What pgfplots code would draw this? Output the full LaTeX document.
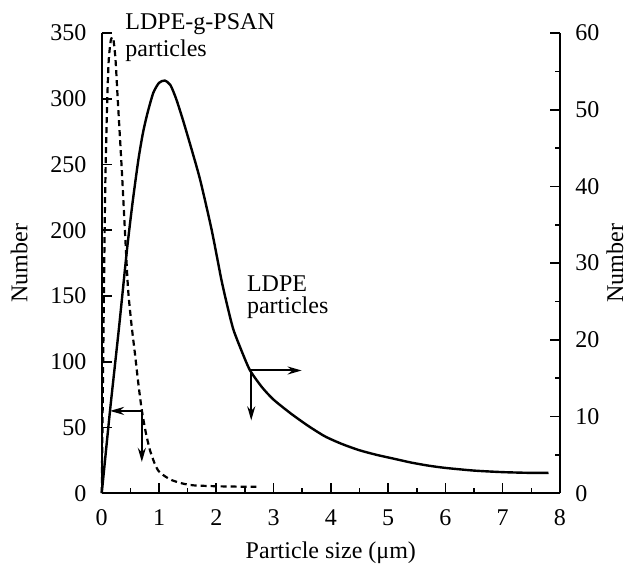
\documentclass[border=0pt]{standalone}
\usepackage{fontspec}
\setmainfont{Liberation Serif}
\usepackage{pgfplots}
\pgfplotsset{compat=1.18}
\usetikzlibrary{arrows.meta}
\tikzset{arr/.style={line width=1pt, -{Stealth[length=7pt,width=4pt]}}}

\begin{document}
\fontsize{12}{14}\selectfont
\begin{tikzpicture}
\pgfplotsset{
  base/.style={
    scale only axis, width=229pt, height=230pt,
    xmin=0, xmax=8,
    tick align=inside, major tick length=5pt, minor tick length=2.5pt,
    every tick/.style={black, line width=0.8pt},
    axis line style={line width=1.2pt},
    /pgf/number format/assume math mode=true,
    tick label style={font=\fontsize{12}{14}\selectfont},
    label style={font=\fontsize{12}{14}\selectfont},
    clip=false,
  },
}
\begin{scope}[overlay]
\begin{axis}[base,
  axis x line*=bottom, axis y line*=left,
  ymin=0, ymax=350, ytick={0,50,...,350},
  xtick={0,1,...,8}, minor x tick num=1,
  yticklabel style={xshift=-3.5pt},
  xticklabel style={yshift=-4pt},
  ylabel={Number}, xlabel={Particle size (μm)},
  ylabel style={at={(axis description cs:-0.18,0.5)}, anchor=center},
  xlabel style={at={(axis description cs:0.5,-0.13)}, anchor=center},
]
% LDPE-g-PSAN particles (left axis)
\addplot[black, line width=1.1pt, dash pattern=on 3pt off 2pt, smooth, tension=0.4] coordinates {
 (0,0) (0.02,80) (0.04,160) (0.06,230) (0.09,290) (0.12,328) (0.16,345)
 (0.2,346) (0.24,330) (0.28,299) (0.35,246) (0.41,195) (0.46,155)
 (0.52,128) (0.58,106) (0.64,83) (0.70,63) (0.77,46) (0.84,33)
 (0.92,23) (0.99,17) (1.1,13) (1.22,10) (1.4,7.5) (1.6,6) (2.0,5.3)
 (2.4,5) (2.7,5)
};
\draw[arr] (axis cs:0.70,62.6) -- (axis cs:0.145,62.6);
\draw[arr] (axis cs:0.70,62.6) -- (axis cs:0.70,23.8);
\node[anchor=base west, inner sep=0] at (axis cs:0.407,352.4) {LDPE-g-PSAN};
\node[anchor=base west, inner sep=0] at (axis cs:0.407,332) {particles};
\node[anchor=base west, inner sep=0] at (axis cs:2.53,153.5) {LDPE};
\node[anchor=base west, inner sep=0] at (axis cs:2.53,136.5) {particles};
\end{axis}
\begin{axis}[base,
  axis x line=none, axis y line*=right,
  ymin=0, ymax=60, ytick={0,10,...,60}, minor y tick num=1,
  yticklabel style={xshift=3.5pt},
  ylabel={Number},
  ylabel style={at={(axis description cs:1.12,0.5)}, anchor=center},
]
% LDPE particles (right axis)
\addplot[black, line width=1.2pt, smooth, tension=0.4] coordinates {
 (0,0) (0.145,10.8) (0.3,21.5) (0.44,31.7) (0.54,38) (0.64,43.5)
 (0.72,47) (0.8,49.6) (0.9,52.2) (1.0,53.5) (1.1,53.8) (1.2,53.2)
 (1.3,51.4) (1.42,48.6) (1.57,44.8) (1.72,40.8) (1.92,34.3) (2.09,27.8)
 (2.2,24.2) (2.3,21.3) (2.45,18.4) (2.59,16.0) (2.8,13.8) (3.0,12.2)
 (3.3,10.4) (3.6,8.8) (3.9,7.4) (4.2,6.4) (4.5,5.6) (4.8,5.0)
 (5.1,4.5) (5.4,4.0) (5.7,3.6) (6.0,3.3) (6.5,2.95) (7.0,2.75)
 (7.5,2.65) (7.8,2.65)
};
\draw[arr] (axis cs:2.61,16.0) -- (axis cs:3.49,16.0);
\draw[arr] (axis cs:2.61,16.0) -- (axis cs:2.61,9.5);
\end{axis}
\end{scope}
\useasboundingbox (-50.85pt,-36pt) rectangle (265pt,246.5pt);
\end{tikzpicture}
\end{document}
